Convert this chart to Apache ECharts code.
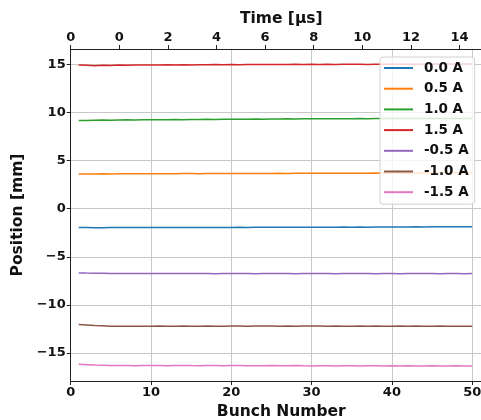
<!DOCTYPE html>
<html>
<head>
<meta charset="utf-8">
<script src="https://cdn.jsdelivr.net/npm/echarts@6/dist/echarts.min.js"></script>
<style>
  html, body { margin: 0; padding: 0; background: #fff; }
  #chart { width: 481px; height: 420px; }
</style>
</head>
<body>
<div id="chart"></div>
<script>
// バンチ番号 (1..50)
const bunches = [
  1, 2, 3, 4, 5, 6, 7, 8, 9, 10, 11, 12, 13, 14, 15, 16, 17, 18, 19, 20,
  21, 22, 23, 24, 25, 26, 27, 28, 29, 30, 31, 32, 33, 34, 35, 36, 37, 38, 39, 40,
  41, 42, 43, 44, 45, 46, 47, 48, 49, 50
];

// 上軸 (時間) の目盛
const timeTicks = [-2, 0, 2, 4, 6, 8, 10, 12, 14];
const timeLabels = ['0', '0', '2', '4', '6', '8', '10', '12', '14'];

const seriesNames = ['0.0 A', '0.5 A', '1.0 A', '1.5 A', '-0.5 A', '-1.0 A', '-1.5 A'];
const seriesColors = ['#1f77b4', '#ff7f0e', '#2ca02c', '#d62728', '#9467bd', '#8c564b', '#e377c2'];

// 各電流値での位置 [mm]
const pos00 = [
  -1.95, -1.96, -1.97, -1.97, -1.96, -1.96, -1.95, -1.96, -1.96, -1.95,
  -1.95, -1.96, -1.95, -1.94, -1.95, -1.95, -1.94, -1.94, -1.95, -1.94,
  -1.93, -1.94, -1.93, -1.93, -1.92, -1.93, -1.92, -1.92, -1.93, -1.92,
  -1.91, -1.92, -1.91, -1.90, -1.91, -1.90, -1.91, -1.90, -1.89, -1.90,
  -1.89, -1.89, -1.88, -1.89, -1.88, -1.87, -1.88, -1.87, -1.86, -1.86
];
const pos05 = [
  3.62, 3.61, 3.62, 3.63, 3.62, 3.63, 3.63, 3.64, 3.63, 3.64,
  3.64, 3.63, 3.64, 3.65, 3.65, 3.64, 3.65, 3.66, 3.65, 3.66,
  3.66, 3.67, 3.66, 3.67, 3.67, 3.68, 3.67, 3.68, 3.68, 3.69,
  3.68, 3.69, 3.69, 3.70, 3.69, 3.70, 3.70, 3.71, 3.70, 3.71,
  3.71, 3.70, 3.71, 3.72, 3.71, 3.72, 3.72, 3.73, 3.72, 3.73
];
const pos10 = [
  9.18, 9.17, 9.20, 9.22, 9.19, 9.22, 9.24, 9.23, 9.25, 9.24,
  9.26, 9.25, 9.27, 9.26, 9.28, 9.27, 9.29, 9.28, 9.30, 9.30,
  9.31, 9.30, 9.32, 9.31, 9.33, 9.32, 9.34, 9.33, 9.34, 9.35,
  9.34, 9.35, 9.36, 9.35, 9.36, 9.37, 9.36, 9.37, 9.37, 9.38,
  9.37, 9.38, 9.38, 9.37, 9.38, 9.39, 9.38, 9.39, 9.38, 9.39
];
const pos15 = [
  14.93, 14.90, 14.87, 14.92, 14.89, 14.93, 14.92, 14.94, 14.93, 14.95,
  14.93, 14.96, 14.94, 14.96, 14.95, 14.97, 14.96, 14.98, 14.97, 14.98,
  14.97, 14.99, 14.98, 15.00, 14.98, 15.00, 14.99, 15.01, 15.00, 15.01,
  14.99, 15.01, 15.00, 15.02, 15.01, 15.02, 15.00, 15.02, 15.01, 15.03,
  15.02, 15.03, 15.02, 15.04, 15.03, 15.03, 15.04, 15.03, 15.04, 15.04
];
const posM05 = [
  -6.67, -6.69, -6.70, -6.71, -6.72, -6.72, -6.73, -6.72, -6.73, -6.74,
  -6.73, -6.74, -6.73, -6.74, -6.74, -6.73, -6.74, -6.75, -6.74, -6.74,
  -6.73, -6.74, -6.75, -6.74, -6.73, -6.74, -6.74, -6.75, -6.74, -6.73,
  -6.74, -6.74, -6.75, -6.74, -6.74, -6.73, -6.74, -6.75, -6.74, -6.74,
  -6.75, -6.74, -6.74, -6.73, -6.74, -6.75, -6.74, -6.74, -6.75, -6.74
];
const posM10 = [
  -12.04, -12.08, -12.13, -12.15, -12.20, -12.21, -12.20, -12.22, -12.21, -12.20,
  -12.19, -12.21, -12.20, -12.19, -12.20, -12.21, -12.19, -12.20, -12.21, -12.19,
  -12.18, -12.20, -12.19, -12.18, -12.19, -12.20, -12.19, -12.20, -12.19, -12.18,
  -12.19, -12.20, -12.19, -12.20, -12.21, -12.19, -12.20, -12.19, -12.20, -12.21,
  -12.19, -12.20, -12.19, -12.21, -12.20, -12.19, -12.20, -12.21, -12.20, -12.20
];
const posM15 = [
  -16.17, -16.20, -16.24, -16.26, -16.28, -16.30, -16.29, -16.31, -16.30, -16.29,
  -16.30, -16.31, -16.29, -16.28, -16.30, -16.31, -16.30, -16.29, -16.31, -16.30,
  -16.29, -16.31, -16.32, -16.31, -16.30, -16.32, -16.31, -16.30, -16.32, -16.33,
  -16.31, -16.32, -16.33, -16.31, -16.32, -16.33, -16.32, -16.31, -16.33, -16.32,
  -16.33, -16.32, -16.34, -16.33, -16.32, -16.34, -16.33, -16.32, -16.34, -16.34
];

const seriesValues = [pos00, pos05, pos10, pos15, posM05, posM10, posM15];

const chart = echarts.init(document.getElementById('chart'), null, { renderer: 'canvas' });

const font = 'DejaVu Sans';
const axisColor = '#222';
const gridColor = '#c8c8c8';

// マイナス記号を U+2212 に
const fmtMinus = v => String(v).replace('-', '\u2212');

const option = {
  animation: false,
  backgroundColor: '#fff',
  grid: {
    left: 70.7,
    top: 49,
    width: 421.2,
    height: 332,
    outerBoundsMode: 'none',
    containLabel: false
  },
  legend: {
    orient: 'vertical',
    left: 380,
    top: 57,
    padding: [4, 6, 5, 4],
    itemGap: 6.7,
    itemWidth: 29,
    itemHeight: 2,
    icon: 'rect',
    backgroundColor: 'rgba(255,255,255,0.8)',
    borderColor: '#d0d0d0',
    borderWidth: 1,
    borderRadius: 3,
    textStyle: {
      fontFamily: font,
      fontWeight: 'bold',
      fontSize: 13.5,
      lineHeight: 14,
      color: '#111',
      padding: [0, 0, 0, 6]
    },
    data: seriesNames
  },
  xAxis: [
    {
      type: 'value',
      position: 'bottom',
      min: 0,
      max: 52.45,
      interval: 10,
      name: 'Bunch Number',
      nameLocation: 'middle',
      nameGap: 23,
      nameTextStyle: { fontFamily: font, fontWeight: 'bold', fontSize: 15.5, color: '#111' },
      axisLine: { onZero: false, lineStyle: { color: axisColor, width: 1 } },
      axisTick: { show: true, length: 4, lineStyle: { color: axisColor } },
      axisLabel: {
        fontFamily: font, fontWeight: 'bold', fontSize: 13, color: '#111', margin: 5,
        showMaxLabel: false
      },
      splitLine: { show: true, lineStyle: { color: gridColor, width: 1 } }
    },
    {
      type: 'value',
      position: 'top',
      min: -2,
      max: 15.33,
      interval: 2,
      name: 'Time [μs]',
      nameLocation: 'middle',
      nameGap: 22,
      nameMoveOverlap: false,
      nameTextStyle: { fontFamily: font, fontWeight: 'bold', fontSize: 15.5, color: '#111' },
      axisLine: { onZero: false, lineStyle: { color: axisColor, width: 1 } },
      axisTick: { show: true, length: 4, lineStyle: { color: axisColor } },
      axisLabel: {
        fontFamily: font, fontWeight: 'bold', fontSize: 13, color: '#111', margin: 5,
        showMaxLabel: false,
        formatter: v => {
          const i = timeTicks.indexOf(v);
          return i >= 0 ? timeLabels[i] : '';
        }
      },
      splitLine: { show: false }
    }
  ],
  yAxis: {
    type: 'value',
    min: -17.9,
    max: 16.6,
    splitNumber: 7,
    name: 'Position [mm]',
    nameLocation: 'middle',
    nameGap: 43,
    nameTextStyle: { fontFamily: font, fontWeight: 'bold', fontSize: 15.5, color: '#111' },
    axisLine: { show: true, onZero: false, lineStyle: { color: axisColor, width: 1 } },
    axisTick: { show: true, length: 4, lineStyle: { color: axisColor } },
    axisLabel: {
      fontFamily: font, fontWeight: 'bold', fontSize: 13, color: '#111', margin: 5,
      showMinLabel: false, showMaxLabel: false,
      formatter: v => (v % 5 === 0 ? fmtMinus(v) : '')
    },
    splitLine: { show: true, lineStyle: { color: gridColor, width: 1 } }
  },
  series: seriesNames.map((name, k) => ({
    name: name,
    type: 'line',
    xAxisIndex: 0,
    showSymbol: false,
    symbol: 'none',
    color: seriesColors[k],
    lineStyle: { width: 1.5, color: seriesColors[k] },
    data: bunches.map((b, i) => [b, seriesValues[k][i]])
  }))
};

chart.setOption(option);
</script>
</body>
</html>
